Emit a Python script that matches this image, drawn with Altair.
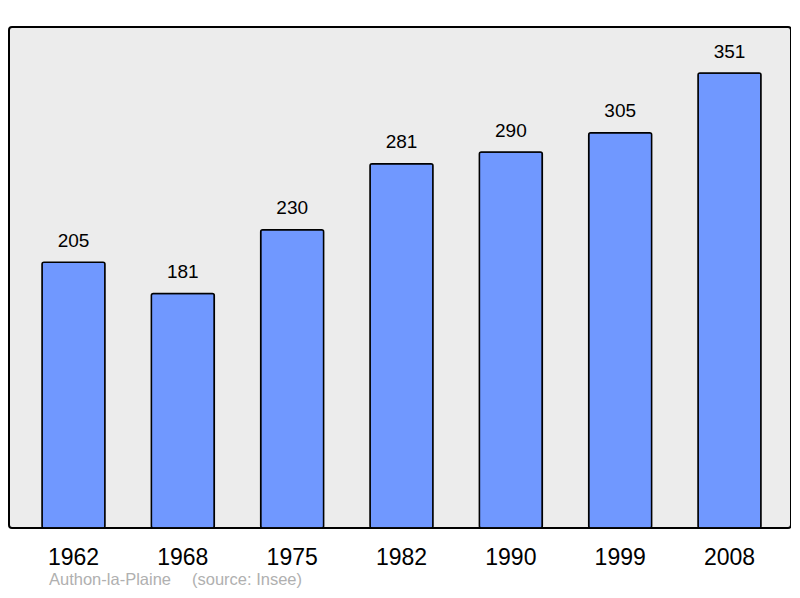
import altair as alt
import pandas as pd

years = ["1962", "1968", "1975", "1982", "1990", "1999", "2008"]
population = [205, 181, 230, 281, 290, 305, 351]
commune = "Authon-la-Plaine"
source = "(source: Insee)"

df = pd.DataFrame({"year": years, "pop": population})

FONT = "Liberation Sans"

x_enc = alt.X(
    "year:N",
    sort=years,
    title=None,
    scale=alt.Scale(paddingInner=0.424, paddingOuter=0, range=[33, 752]),
    axis=alt.Axis(
        labelAngle=0,
        labelFontSize=23,
        labelFont=FONT,
        labelColor="#000000",
        labelPadding=18,
        ticks=False,
        domain=False,
    ),
)
y_enc = alt.Y(
    "pop:Q",
    title=None,
    scale=alt.Scale(domain=[0, 386.5], nice=False, zero=True),
    axis=None,
)

base = alt.Chart(df)

bars = base.mark_bar(
    color="#7098ff", stroke="#000000", strokeWidth=1.5, cornerRadius=2
).encode(x=x_enc, y=y_enc)

labels = base.mark_text(
    font=FONT, fontSize=19, color="#000000", baseline="alphabetic", dy=-15.5
).encode(x=alt.X("year:N", sort=years), y="pop:Q", text="pop:Q")

foot_df1 = pd.DataFrame({"t": [commune]})
foot_df2 = pd.DataFrame({"t": [source]})

foot1 = alt.Chart(foot_df1).mark_text(
    font=FONT, fontSize=16.5, color="#b0b0b0", align="left", baseline="alphabetic"
).encode(x=alt.value(40), y=alt.value(558), text="t:N")

foot2 = alt.Chart(foot_df2).mark_text(
    font=FONT, fontSize=16.5, color="#b0b0b0", align="left", baseline="alphabetic"
).encode(x=alt.value(183), y=alt.value(558), text="t:N")

chart = (
    alt.layer(bars, labels, foot1, foot2)
    .properties(
        width=782,
        height=501,
        autosize=alt.AutoSizeParams(type="none"),
        padding={"left": 1, "top": 19, "right": 0, "bottom": 62},
    )
    .configure(background="#ffffff")
    .configure_view(
        fill="#ececec", stroke="#000000", strokeWidth=2, cornerRadius=3
    )
)

chart.save("out.html", embed_options={"renderer": "svg", "actions": False})
